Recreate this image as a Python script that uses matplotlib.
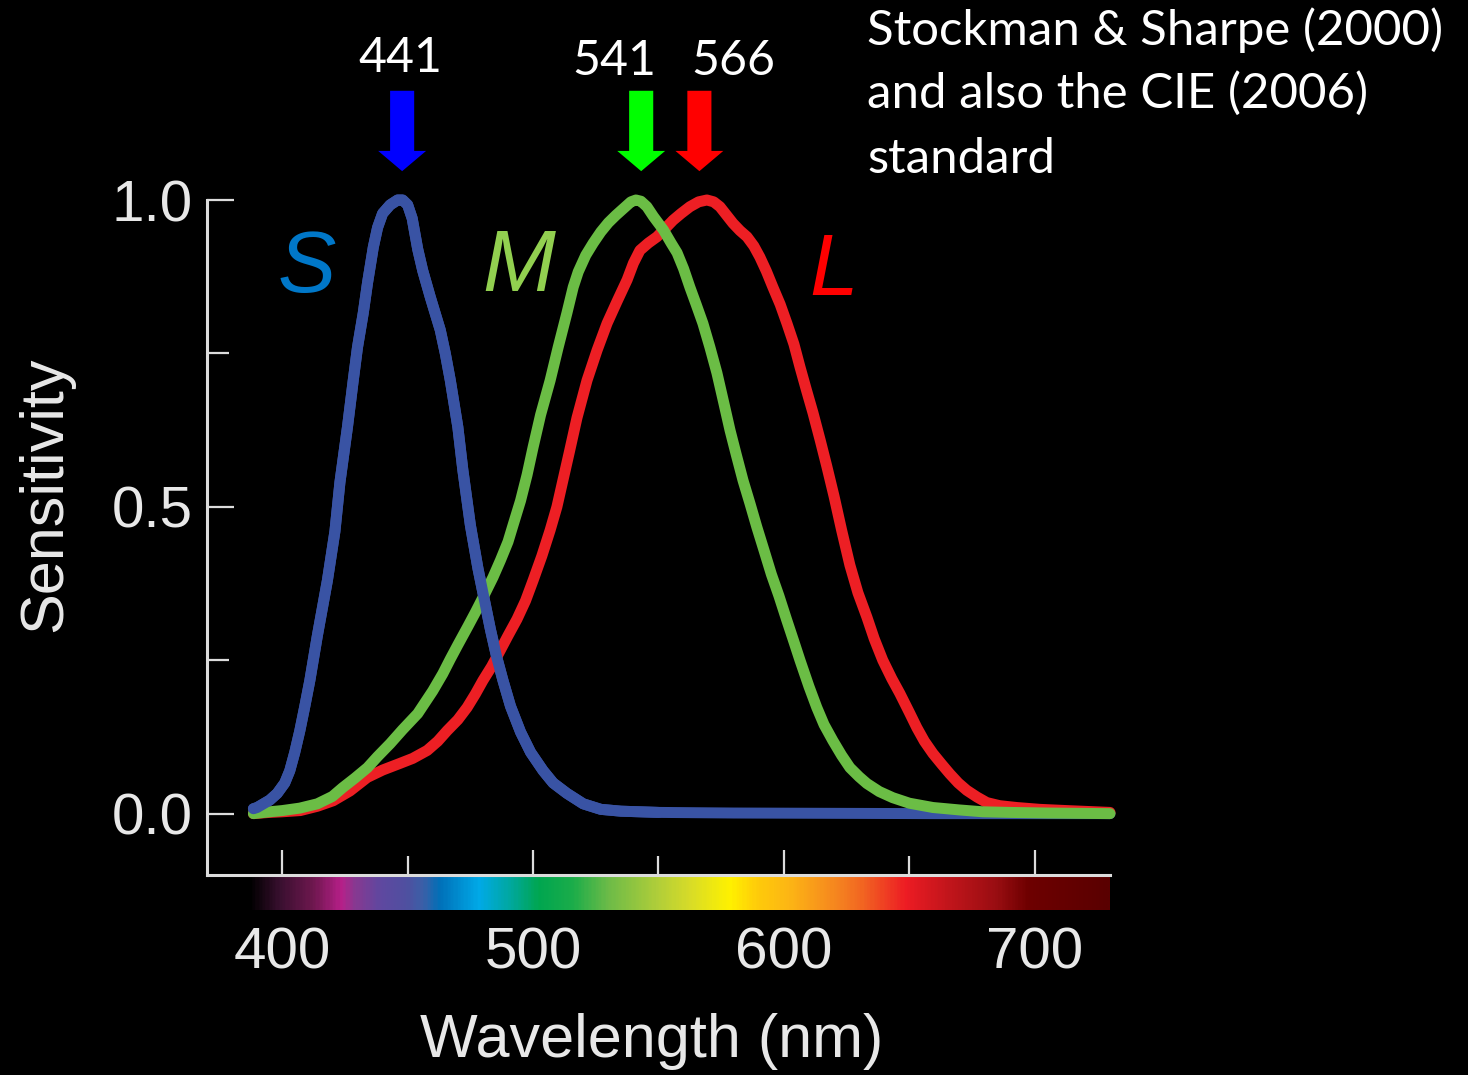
import matplotlib
matplotlib.use('Agg')
import matplotlib.pyplot as plt
import numpy as np
from matplotlib.colors import LinearSegmentedColormap
from matplotlib.patches import FancyArrow

# ---------------- data ----------------
s_wl = [388.5, 390, 395, 398, 401, 403, 405, 407, 409, 411, 414, 418, 421, 423, 426,
        428.3, 430, 432.3, 434, 436.3, 438, 440, 443, 446, 448, 450, 451.8, 454, 456,
        459, 463, 465, 467, 470, 472, 475, 478, 480.5, 483, 485.5, 488, 491, 495, 499,
        504, 508, 513.5, 520, 527, 535, 550, 580, 620, 660, 700, 730]
s_val = [0.008, 0.010, 0.022, 0.033, 0.050, 0.070, 0.100, 0.135, 0.175, 0.217, 0.290,
         0.380, 0.460, 0.540, 0.630, 0.706, 0.760, 0.816, 0.865, 0.923, 0.955, 0.978,
         0.992, 1.000, 1.000, 0.992, 0.970, 0.920, 0.885, 0.842, 0.788, 0.750, 0.706,
         0.630, 0.560, 0.470, 0.400, 0.350, 0.300, 0.255, 0.217, 0.175, 0.133, 0.100,
         0.070, 0.050, 0.033, 0.016, 0.007, 0.004, 0.002, 0.001, 0.0005, 0.0, 0.0, 0.0]

m_wl = [388.5, 395, 400, 407, 414, 420, 424, 429, 434, 438, 443, 448, 454, 460, 464,
        467, 470, 474, 477, 480, 484, 487, 490, 492, 495, 497.6, 500, 503, 506.8, 510,
        513.5, 516, 518, 521, 524, 527, 530, 533, 536, 539, 541, 543, 545.4, 548, 552,
        555, 557.4, 560, 562.5, 565, 567.7, 570.5, 573.3, 576, 578.5, 581, 583.7, 586.5,
        589.2, 592, 595, 598, 601, 604, 606.4, 610, 613.1, 616, 619.5, 623, 626.3, 630,
        633.1, 638, 643.4, 650, 659.4, 670, 679.3, 690, 705, 730]
m_val = [0.000, 0.003, 0.005, 0.009, 0.016, 0.028, 0.042, 0.058, 0.075, 0.093, 0.114,
         0.137, 0.163, 0.200, 0.228, 0.252, 0.275, 0.305, 0.328, 0.352, 0.385, 0.413,
         0.443, 0.470, 0.510, 0.552, 0.597, 0.650, 0.706, 0.760, 0.816, 0.858, 0.883,
         0.910, 0.930, 0.948, 0.963, 0.975, 0.986, 0.997, 1.000, 0.998, 0.989, 0.973,
         0.951, 0.930, 0.914, 0.888, 0.858, 0.830, 0.799, 0.760, 0.718, 0.670, 0.625,
         0.585, 0.543, 0.505, 0.467, 0.430, 0.390, 0.355, 0.317, 0.280, 0.250, 0.207,
         0.173, 0.145, 0.119, 0.095, 0.075, 0.060, 0.049, 0.036, 0.026, 0.017, 0.010,
         0.006, 0.003, 0.002, 0.001, 0.000]

l_wl = [388.5, 395, 400, 407.2, 414, 420.3, 427, 433.9, 440, 447, 452, 457.8, 462,
        465.7, 470, 473.7, 477, 480, 483.5, 486.9, 490, 493.6, 497, 500, 503.5, 506.8,
        509.5, 512, 514.5, 517.5, 521.5, 525.5, 529.5, 533.5, 537.5, 540, 542.6, 546,
        549.4, 552.5, 555.8, 559, 562.5, 566, 569.3, 572, 574.5, 577, 579.7, 582.5,
        585.3, 588, 590.4, 593, 595.6, 598.5, 601.2, 604, 606.4, 609, 611.6, 614.5,
        617.1, 620, 623, 626.3, 629.5, 633.1, 636, 639.4, 643, 646.2, 650, 653, 656,
        659.4, 663, 666.1, 669.5, 672.9, 677, 680.9, 686, 692.8, 702, 712.7, 730]
l_val = [0.000, 0.002, 0.003, 0.005, 0.012, 0.021, 0.037, 0.059, 0.071, 0.082, 0.090,
         0.103, 0.118, 0.135, 0.153, 0.173, 0.195, 0.217, 0.240, 0.266, 0.290, 0.317,
         0.347, 0.380, 0.420, 0.462, 0.500, 0.545, 0.590, 0.645, 0.706, 0.755, 0.799,
         0.835, 0.870, 0.897, 0.918, 0.930, 0.940, 0.953, 0.967, 0.978, 0.989, 0.997,
         1.000, 0.997, 0.989, 0.976, 0.962, 0.950, 0.940, 0.925, 0.907, 0.884, 0.858,
         0.830, 0.799, 0.765, 0.728, 0.690, 0.653, 0.608, 0.566, 0.517, 0.462, 0.405,
         0.360, 0.320, 0.285, 0.250, 0.220, 0.196, 0.165, 0.140, 0.118, 0.098, 0.080,
         0.065, 0.050, 0.038, 0.027, 0.018, 0.013, 0.010, 0.007, 0.005, 0.002]

curve_names = ['S', 'M', 'L']
peak_labels = ['441', '541', '566']
arrow_wl = [447.8, 543.1, 566.3]

spectrum_wl = [386.4, 398.4, 412.0, 423.1, 427.9, 438.3, 449.0, 455.8, 462.2, 478.1,
               491.7, 502.0, 516.0, 529.6, 549.5, 562.7, 578.6, 589.4, 602.6, 622.5,
               631.7, 649.2, 665.2, 685.1, 698.2, 730.0]
spectrum_colors = ['#000000', '#3a1030', '#701850', '#b8208a', '#8a3890', '#6048a0',
                   '#5050a0', '#3a60a8', '#0070b8', '#00aae8', '#00a898', '#00a650',
                   '#1cad4a', '#6cbb48', '#b0ce3a', '#d8dc28', '#fff200', '#ffcc0a',
                   '#fdb515', '#f58220', '#f26522', '#ed1c24', '#c4161c', '#9a0e12',
                   '#6e0000', '#5a0000']

x_ticks = [400, 500, 600, 700]
x_minor = [450, 550, 650]
y_ticks = [0.0, 0.5, 1.0]
y_tick_labels = ['0.0', '0.5', '1.0']
y_minor = [0.25, 0.75]

note_lines = ['Stockman & Sharpe (2000)', 'and also the CIE (2006)', 'standard']

# ---------------- styling ----------------
W, H = 1468, 1075
BG = 'black'
AX_COL = '#dcdcdc'
TXT_COL = '#e8e8e8'
line_cols = {'S': '#3953a4', 'M': '#6bbd45', 'L': '#ed1f24'}
label_cols = {'S': '#0077c8', 'M': '#92d050', 'L': '#ff0000'}
arrow_cols = ['#0000ff', '#00ff00', '#ff0000']
SANS = 'Liberation Sans'
HUMAN = 'Lato'

fig = plt.figure(figsize=(W / 100, H / 100), dpi=100, facecolor=BG)
ax = fig.add_axes([207 / W, 1 - 875 / H, 903 / W, 675 / H])
ax.set_facecolor(BG)

def fx(px):
    return px / W

def fy(py):
    return 1 - py / H

# spectrum strip under the x axis
pos = [(w - spectrum_wl[0]) / (spectrum_wl[-1] - spectrum_wl[0]) for w in spectrum_wl]
cmap = LinearSegmentedColormap.from_list('spectrum', list(zip(pos, spectrum_colors)))
grad = np.linspace(0, 1, 600)[None, :]
ax.imshow(grad, extent=(spectrum_wl[0], spectrum_wl[-1], -0.157, -0.1035),
          cmap=cmap, aspect='auto', clip_on=False, interpolation='bilinear', zorder=1)

LW = 7.9
common = dict(lw=LW, solid_capstyle='round', solid_joinstyle='round', clip_on=False)
ax.plot(l_wl, l_val, color=line_cols['L'], zorder=3, **common)
ax.plot(s_wl, s_val, color=line_cols['S'], zorder=2.5, **common)
ax.plot(m_wl, m_val, color=line_cols['M'], zorder=4, **common)
n_top = sum(1 for w in s_wl if w <= 560)
ax.plot(s_wl[:n_top], s_val[:n_top], color=line_cols['S'], zorder=5, **common)

ax.set_xlim(370, 730)
ax.set_ylim(-0.1, 1.0)

for side in ['top', 'right']:
    ax.spines[side].set_visible(False)
for side in ['left', 'bottom']:
    ax.spines[side].set_color(AX_COL)
    ax.spines[side].set_linewidth(2.2)

ax.set_xticks(x_ticks)
ax.set_xticks(x_minor, minor=True)
ax.set_yticks(y_ticks, labels=y_tick_labels)
ax.set_yticks(y_minor, minor=True)
ax.tick_params(axis='x', which='major', direction='in', length=18, width=1.6,
               color=AX_COL, labelcolor=TXT_COL, labelsize=42, pad=37)
ax.tick_params(axis='x', which='minor', direction='in', length=13.5, width=1.6, color=AX_COL)
ax.tick_params(axis='y', which='major', direction='in', length=19.5, width=1.6,
               color=AX_COL, labelcolor=TXT_COL, labelsize=42, pad=10)
ax.tick_params(axis='y', which='minor', direction='in', length=16, width=1.6, color=AX_COL)
for lab in ax.get_xticklabels() + ax.get_yticklabels():
    lab.set_family(SANS)

# axis titles
fig.text(fx(652), fy(1042), 'Wavelength (nm)', ha='center', va='center',
         fontsize=44, color=TXT_COL, family=SANS)
fig.text(fx(46), fy(494), 'Sensitivity', ha='center', va='center', rotation=90,
         fontsize=44, color=TXT_COL, family=SANS)

# curve names
name_pos = {'S': (307, 292), 'M': (519, 291), 'L': (834, 295)}
for nm in curve_names:
    x, y = name_pos[nm]
    fig.text(fx(x), fy(y), nm, ha='center', va='baseline', fontsize=63,
             style='italic', color=label_cols[nm], family=SANS)

# peak arrows
for wl, col in zip(arrow_wl, arrow_cols):
    ax.add_patch(FancyArrow(wl, 1.178, 0, -0.131, width=9.6, head_width=19.1,
                            head_length=0.033, length_includes_head=True,
                            color=col, lw=0, clip_on=False, zorder=6))

renderer = fig.canvas.get_renderer()

def fit_width(t, target):
    w = t.get_window_extent(renderer).width
    t.set_fontsize(t.get_fontsize() * target / w)
    return t.get_fontsize()

# peak numbers
num_pos = [(400, 71.5), (614, 75), (733.5, 75)]
t0 = fig.text(fx(num_pos[0][0]), fy(num_pos[0][1]), peak_labels[0], ha='center',
              va='baseline', fontsize=40, color='white', family=HUMAN)
fs_num = fit_width(t0, 84)
for lab, (x, y) in zip(peak_labels[1:], num_pos[1:]):
    fig.text(fx(x), fy(y), lab, ha='center', va='baseline', fontsize=fs_num,
             color='white', family=HUMAN)

# reference note
baselines = [45, 108, 173]
t1 = fig.text(fx(867), fy(baselines[0]), note_lines[0], ha='left', va='baseline',
              fontsize=36, color='white', family=HUMAN)
fs_note = fit_width(t1, 575)
for line, b in zip(note_lines[1:], baselines[1:]):
    fig.text(fx(867), fy(b), line, ha='left', va='baseline', fontsize=fs_note,
             color='white', family=HUMAN)

fig.savefig('out.png', dpi=100, facecolor=BG)
